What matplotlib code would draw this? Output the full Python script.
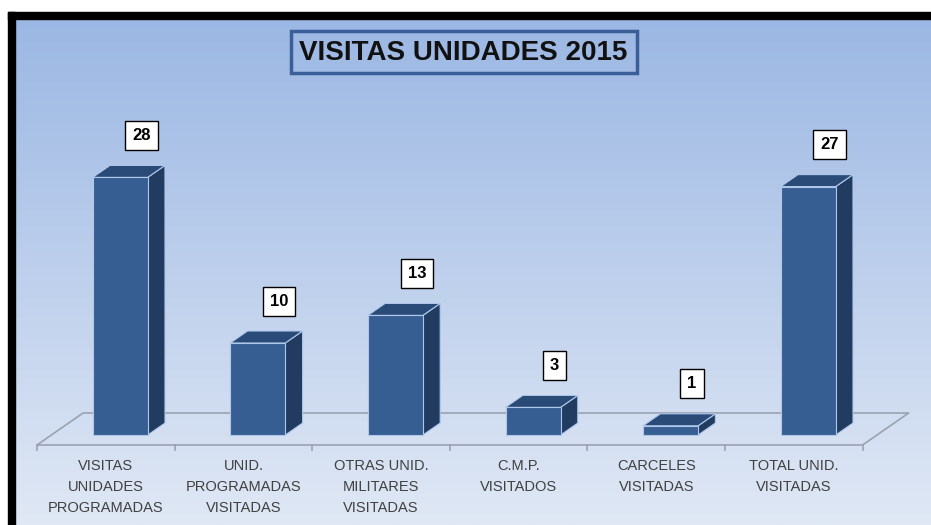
import numpy as np
import matplotlib.pyplot as plt
from matplotlib.patches import Polygon, Rectangle

plt.rcParams['font.family'] = ['Liberation Sans', 'DejaVu Sans']

categorias = ['VISITAS\nUNIDADES\nPROGRAMADAS', 'UNID.\nPROGRAMADAS\nVISITADAS',
              'OTRAS UNID.\nMILITARES\nVISITADAS', 'C.M.P.\nVISITADOS',
              'CARCELES\nVISITADAS', 'TOTAL UNID.\nVISITADAS']
valores = [28, 10, 13, 3, 1, 27]
titulo = 'VISITAS UNIDADES 2015'

W, H = 931, 525
fig = plt.figure(figsize=(W / 100, H / 100), dpi=100)

# fondo con degradado y marco
bg = fig.add_axes([0, 0, 1, 1])
bg.set_xlim(0, W)
bg.set_ylim(H, 0)
bg.axis('off')
top = np.array([155, 183, 227]) / 255
bot = np.array([224, 232, 245]) / 255
t = np.linspace(0, 1, 256)[:, None]
grad = (top * (1 - t) + bot * t)[:, None, :]
bg.imshow(grad, extent=[0, W, H, 19], aspect='auto', zorder=0)
bg.add_patch(Rectangle((0, 0), W, 12, color='white', zorder=1))
bg.add_patch(Rectangle((0, 0), 8, H, color='white', zorder=1))
bg.add_patch(Rectangle((8, 12), W, 7, color='black', zorder=2))
bg.add_patch(Rectangle((8, 12), 7, H, color='black', zorder=2))
bg.add_patch(Rectangle((291, 31), 346, 42, fc='none', ec='#3A5F98', lw=2.5, zorder=3))
bg.text(463, 53, titulo, ha='center', va='center', fontsize=20, fontweight='bold',
        color='#111111', zorder=3)

# grafico 3D simulado
sx, sy = 137.6, 9.2   # px por categoria / px por unidad
ax = fig.add_axes([0, 0, 1, 1])
ax.patch.set_alpha(0)
ax.axis('off')
ax.set_xlim(-105.8 / sx, (W - 105.8) / sx)
ax.set_ylim((445 - H) / sy, 445 / sy)

def prof(h):
    return 1.44 * h / sx, h / sy

n = len(valores)
# piso
fx, fy = prof(32)
piso = [(-0.5, 0), (n - 0.5, 0), (n - 0.5 + fx, fy), (-0.5 + fx, fy), (-0.5, 0)]
ax.plot(*zip(*piso), color='#9AA3B0', lw=1.2, zorder=2)
for k in range(n + 1):
    ax.plot([k - 0.5, k - 0.5], [0, -0.5], color='#9AA3B0', lw=1.2, zorder=2)

ancho = 55 / sx
bx, by = prof(10)
dx, dy = prof(12)
borde = '#AFC8EA'
for i, (cat, v) in enumerate(zip(categorias, valores)):
    x0 = i - ancho / 2 + bx
    x1 = x0 + ancho
    y0, y1 = by, by + v
    ax.add_patch(Polygon([(x1, y0), (x1 + dx, y0 + dy), (x1 + dx, y1 + dy), (x1, y1)],
                         fc='#213C60', ec=borde, lw=0.8, zorder=3))
    ax.add_patch(Polygon([(x0, y1), (x1, y1), (x1 + dx, y1 + dy), (x0 + dx, y1 + dy)],
                         fc='#2A4A78', ec=borde, lw=0.8, zorder=3))
    ax.add_patch(Rectangle((x0, y0), ancho, v, fc='#375E93', ec=borde, lw=0.8, zorder=4))
    ax.text(x0 + ancho / 2 + 21.5 / sx, y1 + 42 / sy, str(v), ha='center', va='center',
            fontsize=12, fontweight='bold', color='black', zorder=5,
            bbox=dict(boxstyle='square,pad=0.42', fc='white', ec='black', lw=1))
    ax.text(i, -14.5 / sy, cat, ha='center', va='top', fontsize=10.5, color='#404040',
            linespacing=1.6, zorder=5)

fig.savefig('out.png', dpi=100)
